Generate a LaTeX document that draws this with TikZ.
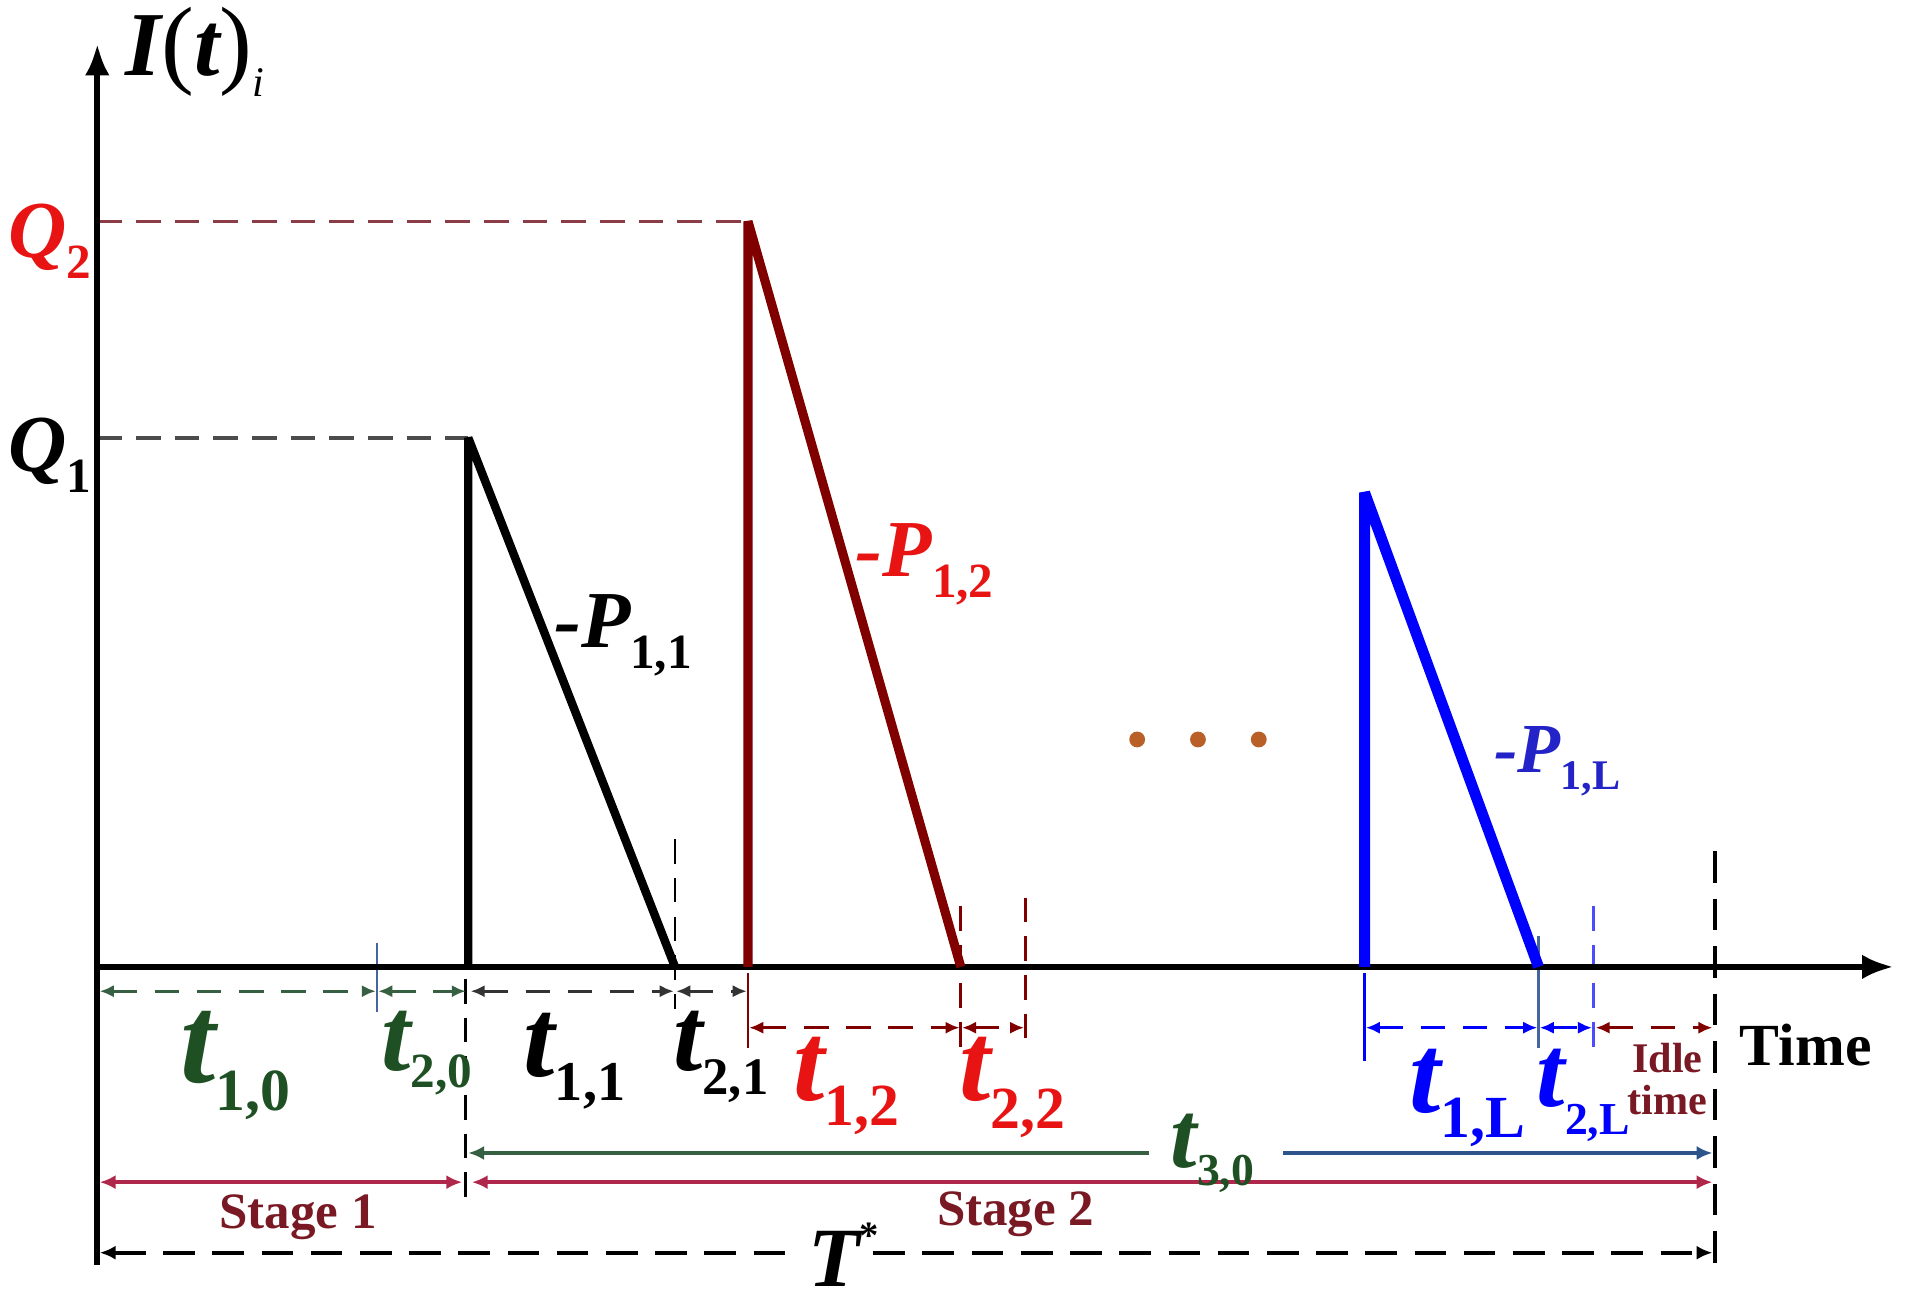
\documentclass[tikz,border=0pt]{standalone}
\usepackage{fontspec}
\setmainfont{Liberation Serif}
\usetikzlibrary{arrows.meta}
\definecolor{maroon}{RGB}{128,0,0}
\definecolor{qred}{RGB}{232,20,20}
\definecolor{dgreen}{RGB}{30,80,35}
\definecolor{dimgreen}{RGB}{55,95,65}
\definecolor{stagered}{RGB}{175,40,75}
\definecolor{stagetext}{RGB}{120,25,35}
\definecolor{steel}{RGB}{45,85,140}
\definecolor{dotbrown}{RGB}{185,95,40}
\definecolor{pblue}{RGB}{35,35,200}
\definecolor{tickblue}{RGB}{70,100,160}
\definecolor{qdash}{RGB}{140,60,70}
\newcommand{\Lab}[5]{{\fontsize{#1}{#1}\selectfont\bfseries\itshape #3}{\fontsize{#2}{#2}\selectfont\bfseries\raisebox{#5}{#4}}}
\begin{document}
\begin{tikzpicture}[x=0.01216cm,y=-0.01216cm,
  axis/.style={line width=1.7pt,-{Latex[length=9pt,width=7pt]}},
  tri/.style={line width=2.4pt, line join=bevel},
  dimarr/.style={line width=0.9pt, dash pattern=on 7pt off 5pt, {Latex[length=4pt,width=3.5pt]}-{Latex[length=4pt,width=3.5pt]}},
  solarr/.style={line width=1.3pt, {Latex[length=4.5pt,width=4pt]}-{Latex[length=4.5pt,width=4pt]}},
  vdash/.style={line width=0.8pt, dash pattern=on 7pt off 4pt},
  tickl/.style={line width=0.8pt},
  lab/.style={inner sep=0pt, anchor=base west},
]
\useasboundingbox (0,0) rectangle (1568,1073);
% key points
\coordinate (O) at (80,795);
\coordinate (Ytop) at (80,36);
\coordinate (Ybot) at (80,1040);
\coordinate (Xend) at (1557,795);
\coordinate (B0) at (385,795); \coordinate (Btop) at (385,360); \coordinate (B1) at (555,795);
\coordinate (R0) at (615,795); \coordinate (Rtop) at (615,182); \coordinate (R1) at (790,795);
\coordinate (L0) at (1122,795); \coordinate (Ltop) at (1122,405); \coordinate (L1) at (1265,795);
\coordinate (Q1p) at (80,360); \coordinate (Q2p) at (80,182);

% Q dashed levels
\draw[vdash, black!70, line width=1pt] (Q1p) -- (Btop);
\draw[vdash, qdash, line width=1pt] (Q2p) -- (Rtop);

% vertical helper dashed lines
\draw[vdash] (555,690) -- (555,830);
\draw[vdash] (383,805) -- (383,985);
\draw[tickl, tickblue] (310,775) -- (310,832);
\draw[tickl, maroon] (615,800) -- (615,862);
\draw[vdash, maroon] (790,745) -- (790,862);
\draw[vdash, maroon] (843,738) -- (843,862);
\draw[tickl, tickblue] (1265,770) -- (1265,862);
\draw[vdash, blue!70] (1310,745) -- (1310,872);
\draw[tickl, blue] (1122,800) -- (1122,872);
\draw[line width=1pt, dash pattern=on 9pt off 4.5pt] (1410,700) -- (1410,1045);

% axes
\draw[axis] (Ybot) -- (Ytop);
\draw[axis] (O) -- (Xend);

% triangles
\draw[tri] (B0) -- (Btop) -- (B1);
\draw[tri, maroon, line width=2.6pt] (R0) -- (Rtop) -- (R1);
\draw[tri, blue, line width=3.1pt] (L0) -- (Ltop) -- (L1);

% dots
\foreach \xx in {935,985,1035} \fill[dotbrown] (\xx,608) circle (6.5);

% dimension row A
\draw[dimarr, dimgreen] (82,815) -- (309,815);
\draw[dimarr, dimgreen] (311,815) -- (383,815);
\draw[dimarr, black!80] (387,815) -- (554,815);
\draw[dimarr, black!80] (556,815) -- (614,815);
% dimension row B
\draw[dimarr, maroon] (616,845) -- (789,845);
\draw[dimarr, maroon] (791,845) -- (842,845);
\draw[dimarr, blue] (1123,845) -- (1264,845);
\draw[dimarr, blue] (1266,845) -- (1309,845);
\draw[dimarr, maroon] (1312,845) -- (1408,845);

% t30 line
\draw[line width=1.3pt, dimgreen, {Latex[length=4.5pt,width=4pt]}-] (385,948) -- (945,948);
\draw[line width=1.3pt, steel, -{Latex[length=4.5pt,width=4pt]}] (1055,948) -- (1408,948);
% stage lines
\draw[solarr, stagered] (82,972) -- (380,972);
\draw[solarr, stagered] (388,972) -- (1408,972);
% T* line
\draw[line width=1.1pt, dash pattern=on 9pt off 5pt, {Latex[length=4.5pt,width=4pt]}-] (82,1030) -- (655,1030);
\draw[line width=1.1pt, dash pattern=on 9pt off 5pt, -{Latex[length=4.5pt,width=4pt]}] (718,1030) -- (1408,1030);

% labels
\node[lab] (lIt) at (103,62) {{\fontsize{26}{26}\selectfont\bfseries\itshape I}{\fontsize{28}{28}\selectfont(}{\fontsize{26}{26}\selectfont\bfseries\itshape t}{\fontsize{28}{28}\selectfont)}{\fontsize{12}{12}\selectfont\itshape\raisebox{-6pt}{i}}};
\node[lab, text=qred] (lQ2) at (6,212) {\Lab{23}{14}{Q}{2}{-6pt}};
\node[lab] (lQ1) at (6,388) {\Lab{23}{14}{Q}{1}{-6pt}};

\node[lab] (lP11) at (455,532) {\Lab{23}{14}{-P}{1,1}{-6pt}};
\node[lab, text=qred] (lP12) at (703,474) {\Lab{23}{14}{-P}{1,2}{-6pt}};
\node[lab, text=pblue] (lP1L) at (1228,635) {\Lab{20}{12}{-P}{1,L}{-5pt}};

\node[lab, text=dgreen] (lt10) at (148,890) {\Lab{36}{17}{t}{1,0}{-8pt}};
\node[lab, text=dgreen] (lt20) at (313,880) {\Lab{30}{14}{t}{2,0}{-5pt}};
\node[lab] (lt11) at (430,885) {\Lab{32}{16}{t}{1,1}{-7pt}};
\node[lab] (lt21) at (553,880) {\Lab{30}{15}{t}{2,1}{-7pt}};
\node[lab, text=qred] (lt12) at (652,905) {\Lab{32}{17}{t}{1,2}{-7pt}};
\node[lab, text=qred] (lt22) at (788,905) {\Lab{32}{17}{t}{2,2}{-8pt}};
\node[lab, text=dgreen] (lt30) at (962,960) {\Lab{27}{13}{t}{3,0}{-5pt}};
\node[lab, text=blue] (lt1L) at (1158,915) {\Lab{32}{17}{t}{1,L}{-7pt}};
\node[lab, text=blue] (lt2L) at (1263,910) {\Lab{29}{13}{t}{2,L}{-8pt}};

\node[inner sep=0pt, text=stagetext, font=\fontsize{12}{12}\selectfont\bfseries, align=center] (lidle) at (1371,887) {Idle\\time};
\node[lab, font=\fontsize{17}{17}\selectfont\bfseries] (ltime) at (1430,876) {Time};
\node[lab, text=stagetext, font=\fontsize{14.5}{14.5}\selectfont\bfseries] (ls1) at (180,1010) {Stage 1};
\node[lab, text=stagetext, font=\fontsize{14.5}{14.5}\selectfont\bfseries] (ls2) at (770,1008) {Stage 2};
\node[lab] (lT) at (664,1058) {{\fontsize{24}{24}\selectfont\bfseries\itshape T}{\fontsize{11}{11}\selectfont\bfseries\raisebox{11pt}{*}}};
\end{tikzpicture}
\end{document}
